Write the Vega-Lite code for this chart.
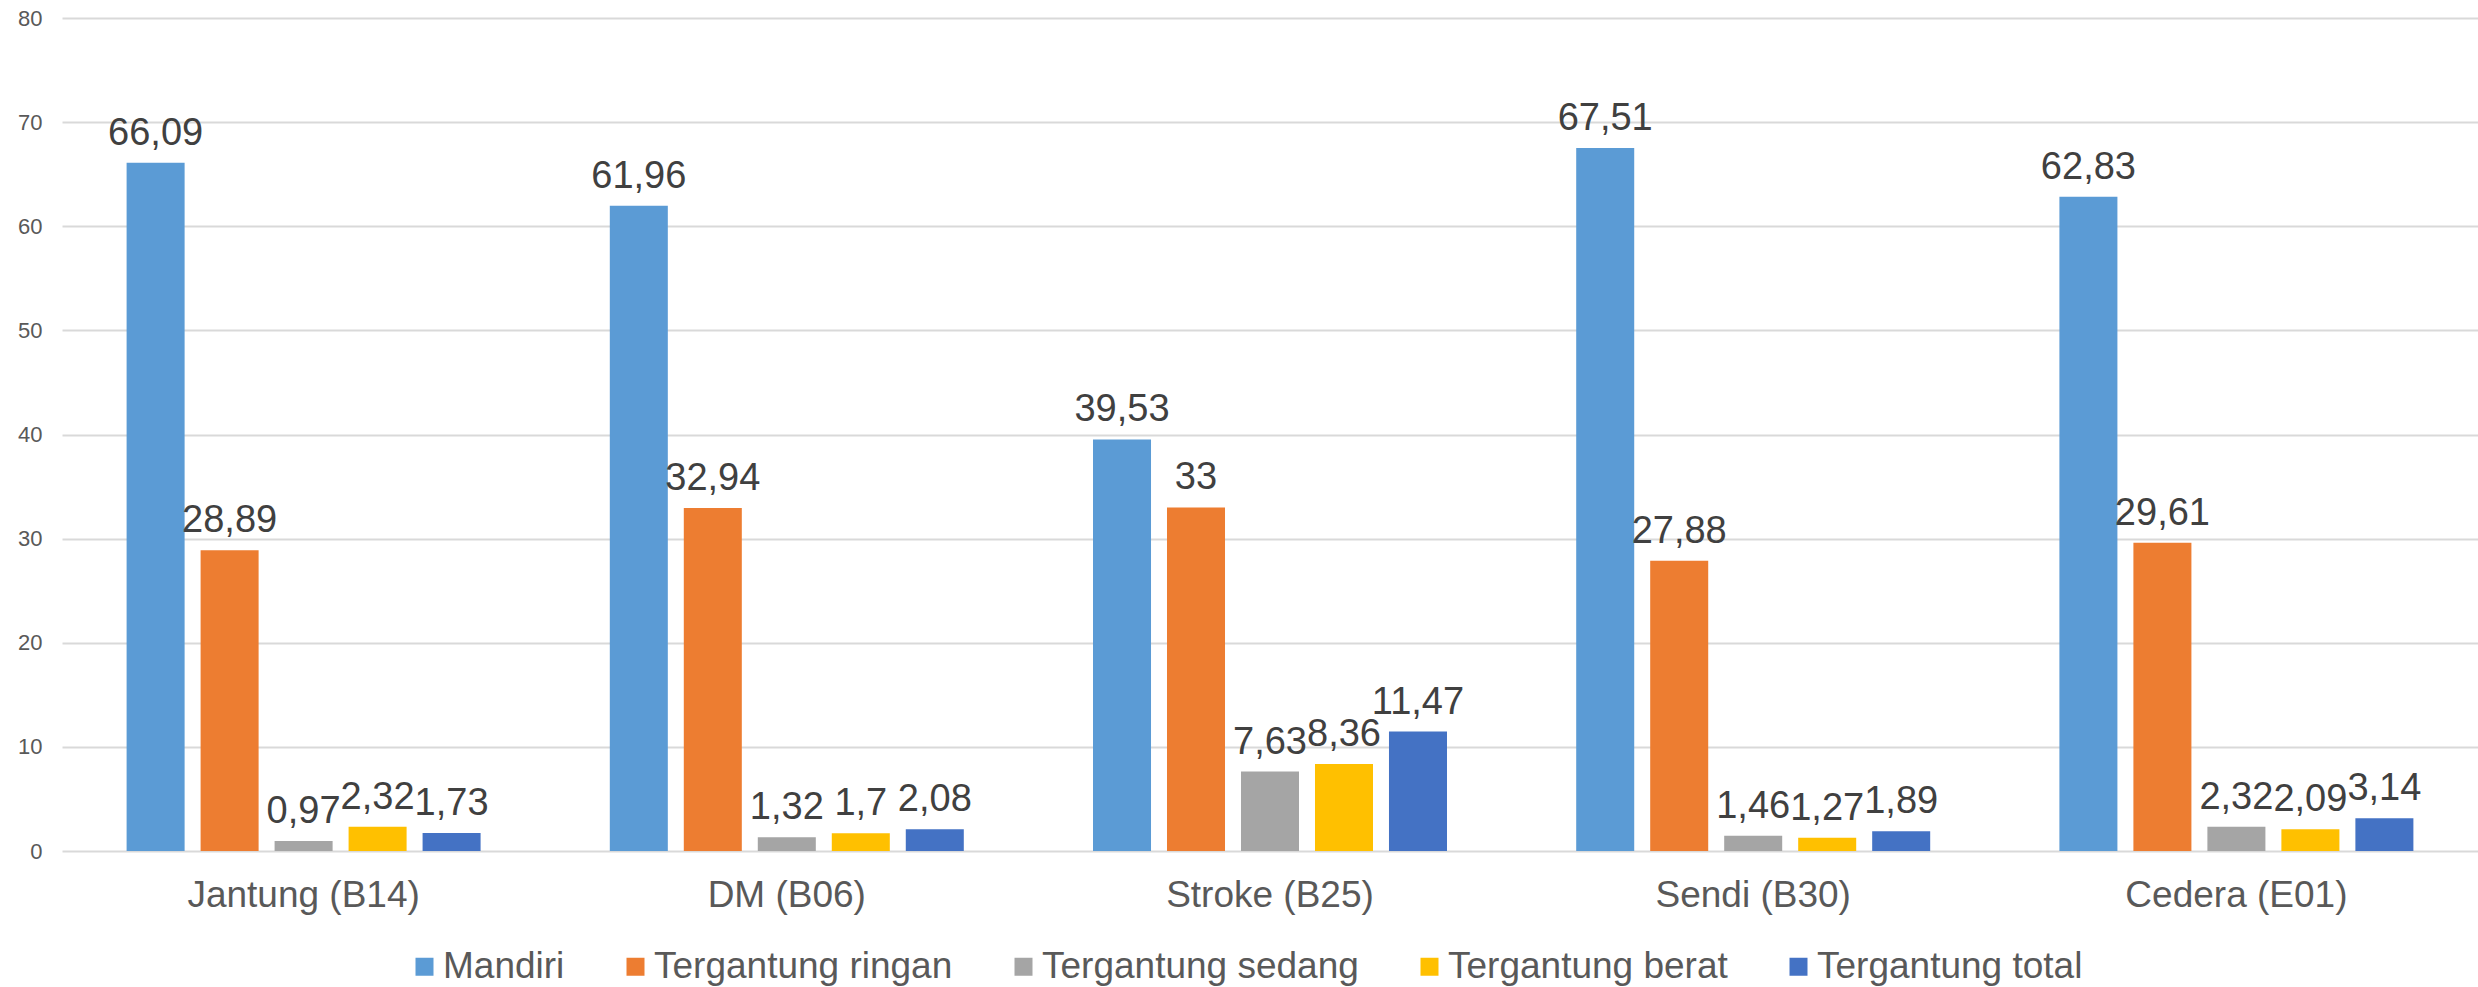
{
  "$schema": "https://vega.github.io/schema/vega-lite/v6.json",
  "width": 2416,
  "height": 833,
  "autosize": {"type": "none"},
  "padding": {"left": 62, "top": 18, "right": 0, "bottom": 136},
  "background": "white",
  "config": {
    "view": {"stroke": null},
    "font": "Liberation Sans",
    "locale": {"number": {"decimal": ",", "thousands": ".", "grouping": [3], "currency": ["", ""]}}
  },
  "data": {
    "values": [
      {"kategori": "Jantung (B14)", "status": "Mandiri", "nilai": 66.09},
      {"kategori": "Jantung (B14)", "status": "Tergantung ringan", "nilai": 28.89},
      {"kategori": "Jantung (B14)", "status": "Tergantung sedang", "nilai": 0.97},
      {"kategori": "Jantung (B14)", "status": "Tergantung berat", "nilai": 2.32},
      {"kategori": "Jantung (B14)", "status": "Tergantung total", "nilai": 1.73},
      {"kategori": "DM (B06)", "status": "Mandiri", "nilai": 61.96},
      {"kategori": "DM (B06)", "status": "Tergantung ringan", "nilai": 32.94},
      {"kategori": "DM (B06)", "status": "Tergantung sedang", "nilai": 1.32},
      {"kategori": "DM (B06)", "status": "Tergantung berat", "nilai": 1.7},
      {"kategori": "DM (B06)", "status": "Tergantung total", "nilai": 2.08},
      {"kategori": "Stroke (B25)", "status": "Mandiri", "nilai": 39.53},
      {"kategori": "Stroke (B25)", "status": "Tergantung ringan", "nilai": 33},
      {"kategori": "Stroke (B25)", "status": "Tergantung sedang", "nilai": 7.63},
      {"kategori": "Stroke (B25)", "status": "Tergantung berat", "nilai": 8.36},
      {"kategori": "Stroke (B25)", "status": "Tergantung total", "nilai": 11.47},
      {"kategori": "Sendi (B30)", "status": "Mandiri", "nilai": 67.51},
      {"kategori": "Sendi (B30)", "status": "Tergantung ringan", "nilai": 27.88},
      {"kategori": "Sendi (B30)", "status": "Tergantung sedang", "nilai": 1.46},
      {"kategori": "Sendi (B30)", "status": "Tergantung berat", "nilai": 1.27},
      {"kategori": "Sendi (B30)", "status": "Tergantung total", "nilai": 1.89},
      {"kategori": "Cedera (E01)", "status": "Mandiri", "nilai": 62.83},
      {"kategori": "Cedera (E01)", "status": "Tergantung ringan", "nilai": 29.61},
      {"kategori": "Cedera (E01)", "status": "Tergantung sedang", "nilai": 2.32},
      {"kategori": "Cedera (E01)", "status": "Tergantung berat", "nilai": 2.09},
      {"kategori": "Cedera (E01)", "status": "Tergantung total", "nilai": 3.14}
    ]
  },
  "encoding": {
    "x": {
      "field": "kategori",
      "type": "nominal",
      "sort": ["Jantung (B14)", "DM (B06)", "Stroke (B25)", "Sendi (B30)", "Cedera (E01)"],
      "scale": {"paddingInner": 0.2674, "paddingOuter": 0.1337},
      "axis": {
        "title": null,
        "labelAngle": 0,
        "labelFontSize": 37,
        "labelColor": "#595959",
        "labelPadding": 26,
        "labelLimit": 0,
        "ticks": false,
        "domain": false,
        "grid": false
      }
    },
    "xOffset": {
      "field": "status",
      "type": "nominal",
      "sort": ["Mandiri", "Tergantung ringan", "Tergantung sedang", "Tergantung berat", "Tergantung total"],
      "scale": {"paddingInner": 0.216, "paddingOuter": 0}
    },
    "y": {
      "field": "nilai",
      "type": "quantitative",
      "scale": {"domain": [0, 80]},
      "axis": {
        "title": null,
        "values": [0, 10, 20, 30, 40, 50, 60, 70, 80],
        "labelFontSize": 22,
        "labelColor": "#595959",
        "labelPadding": 20,
        "ticks": false,
        "domain": false,
        "grid": true,
        "gridColor": "#d9d9d9",
        "gridWidth": 2
      }
    }
  },
  "layer": [
    {
      "mark": {"type": "bar"},
      "encoding": {
        "color": {
          "field": "status",
          "type": "nominal",
          "scale": {
            "domain": ["Mandiri", "Tergantung ringan", "Tergantung sedang", "Tergantung berat", "Tergantung total"],
            "range": ["#5B9BD5", "#ED7D31", "#A5A5A5", "#FFC000", "#4472C4"]
          },
          "legend": {
            "title": null,
            "orient": "none",
            "direction": "horizontal",
            "legendX": 344,
            "legendY": 930,
            "symbolType": "square",
            "symbolSize": 324,
            "symbolStrokeWidth": 0,
            "labelFontSize": 37,
            "labelColor": "#595959",
            "labelOffset": 0,
            "columnPadding": 52,
            "labelLimit": 0
          }
        }
      }
    },
    {
      "mark": {"type": "text", "baseline": "alphabetic", "dy": -18, "fontSize": 38, "color": "#404040"},
      "encoding": {
        "text": {"field": "nilai", "type": "quantitative", "format": "~g"}
      }
    }
  ]
}
